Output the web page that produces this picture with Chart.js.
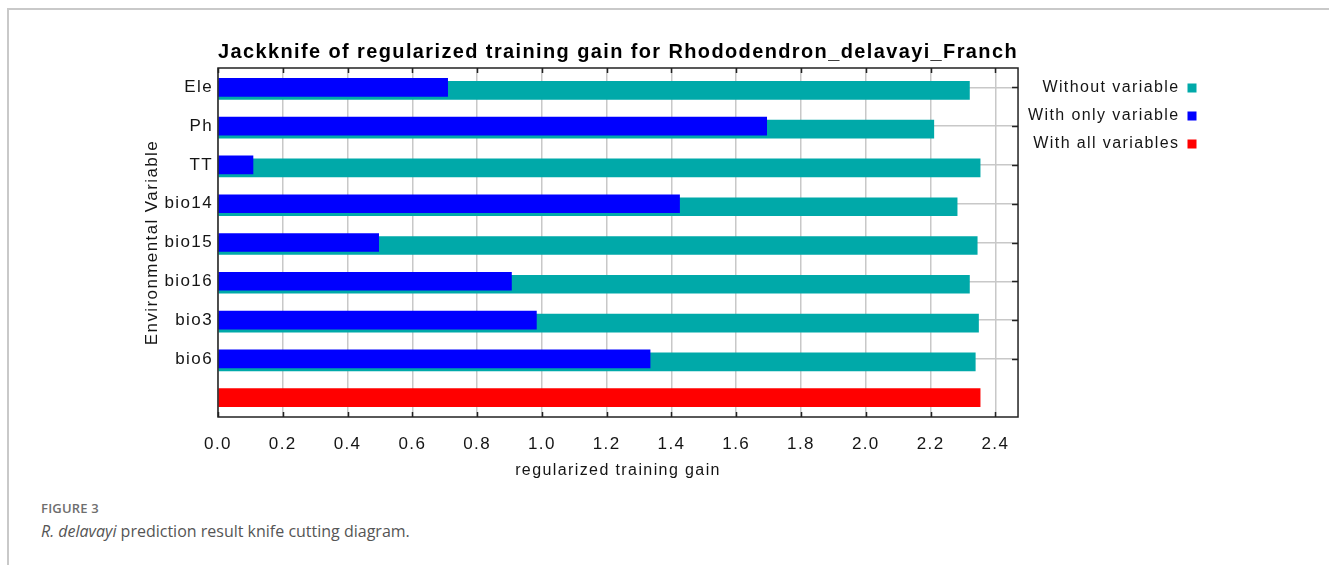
<!DOCTYPE html>
<html>
<head>
<meta charset="utf-8">
<script src="https://cdn.jsdelivr.net/npm/chart.js@4"></script>
<style>
    body { margin: 0; background: #fff; width: 1329px; height: 565px; overflow: hidden; position: relative; }
    .frame { position: absolute; left: 7px; top: 8px; right: 0; bottom: 0; border-top: 2px solid #c9c9c9; border-left: 2px solid #c9c9c9; }
    #chart { position: absolute; left: 0; top: 0; }
    .caption { position: absolute; left: 41px; top: 499px; font-family: "Open Sans", sans-serif; }
    .caption .label { font-size: 13px; font-weight: 600; color: #6e6e6e; letter-spacing: 0.2px; }
    .caption .text { font-size: 16px; color: #555; margin-top: 3px; }
</style>
</head>
<body>
<div class="frame"></div>
<canvas id="chart" width="1329" height="490"></canvas>
<div class="caption">
    <div class="label">FIGURE 3</div>
    <div class="text"><i>R. delavayi</i> prediction result knife cutting diagram.</div>
</div>

<script>
// Jackknife values
const categories = ['Ele', 'Ph', 'TT', 'bio14', 'bio15', 'bio16', 'bio3', 'bio6', ''];
const withoutVariable = [2.32, 2.21, 2.353, 2.282, 2.344, 2.32, 2.348, 2.338, null];
const withOnlyVariable = [0.709, 1.694, 0.108, 1.425, 0.496, 0.906, 0.983, 1.334, null];
const withAllVariables = [null, null, null, null, null, null, null, null, 2.353];

const X_MAX = 2.47;
const X_STEP = 0.2;

const TEAL = '#00a9a9';
const BLUE = '#0000ff';
const RED = '#ff0000';
const AXIS_COLOR = '#222';
const TEXT_COLOR = '#151515';
const GRID_COLOR = '#c8c8c8';
const FONT = 'Liberation Sans, Arial, sans-serif';
const LETTER_SPACING = '1.4px';

// the original plot text is set wide, canvas resets this on resize so set it each pass
const spacingPlugin = {
    id: 'spacing',
    beforeUpdate(chart) { chart.ctx.letterSpacing = LETTER_SPACING; },
    beforeDraw(chart) { chart.ctx.letterSpacing = LETTER_SPACING; }
};

// teal bars sit a few px lower than the blue ones
const shiftPlugin = {
    id: 'shift',
    beforeDatasetDraw(chart, args) {
        if (args.index === 0) {
            chart.ctx.save();
            chart.ctx.translate(0, 3);
        }
    },
    afterDatasetDraw(chart, args) {
        if (args.index === 0) chart.ctx.restore();
    }
};

// box round the plot with inward tick marks
const framePlugin = {
    id: 'frame',
    afterDraw(chart) {
        const { ctx, chartArea: a, scales: { x, y } } = chart;
        ctx.save();
        ctx.strokeStyle = AXIS_COLOR;
        ctx.lineWidth = 1.5;
        ctx.strokeRect(a.left, a.top, a.width, a.height);
        ctx.beginPath();
        x.ticks.forEach(t => {
            const px = Math.round(x.getPixelForValue(t.value)) + 0.5;
            ctx.moveTo(px, a.top);
            ctx.lineTo(px, a.top + 5);
            ctx.moveTo(px, a.bottom);
            ctx.lineTo(px, a.bottom - 5);
        });
        categories.forEach((c, i) => {
            if (!c) return;
            const py = Math.round(y.getPixelForValue(i)) + 0.5;
            ctx.moveTo(a.right, py);
            ctx.lineTo(a.right - 6, py);
        });
        ctx.stroke();
        ctx.restore();
    }
};

new Chart(document.getElementById('chart'), {
    type: 'bar',
    data: {
        labels: categories,
        datasets: [
            { label: 'Without variable', data: withoutVariable, backgroundColor: TEAL, order: 2 },
            { label: 'With only variable', data: withOnlyVariable, backgroundColor: BLUE, order: 1 },
            { label: 'With all variables', data: withAllVariables, backgroundColor: RED, order: 3 }
        ]
    },
    options: {
        indexAxis: 'y',
        responsive: false,
        animation: false,
        grouped: false,
        barThickness: 18,
        borderWidth: 0,
        layout: { padding: { left: 0, right: 120.5, top: 0, bottom: 0 } },
        plugins: {
            title: {
                display: true,
                text: 'Jackknife of regularized training gain for Rhododendron_delavayi_Franch',
                color: '#000',
                font: { family: FONT, size: 20, weight: 'bold' },
                padding: { top: 40, bottom: 4 },
                fullSize: false
            },
            legend: {
                position: 'right',
                align: 'start',
                rtl: true,
                fullSize: false,
                labels: {
                    color: TEXT_COLOR,
                    font: { family: FONT, size: 16 },
                    boxWidth: 9,
                    boxHeight: 9,
                    padding: 12,
                    sort: (a, b) => a.datasetIndex - b.datasetIndex
                }
            },
            tooltip: { enabled: false }
        },
        scales: {
            x: {
                min: 0,
                max: X_MAX,
                ticks: {
                    stepSize: X_STEP,
                    includeBounds: false,
                    color: TEXT_COLOR,
                    font: { family: FONT, size: 17 },
                    padding: 17,
                    callback: v => v.toFixed(1)
                },
                grid: { color: GRID_COLOR, lineWidth: 1.5, drawTicks: false },
                border: { display: false },
                title: {
                    display: true,
                    text: 'regularized training gain',
                    color: TEXT_COLOR,
                    font: { family: FONT, size: 16 },
                    padding: { top: 0, bottom: 10 }
                },
                afterFit(scale) { scale.height = 73; }
            },
            y: {
                offset: true,
                ticks: {
                    color: TEXT_COLOR,
                    font: { family: FONT, size: 17 },
                    padding: 5
                },
                grid: {
                    offset: false,
                    drawTicks: false,
                    lineWidth: 1.5,
                    color: ctx => (categories[ctx.index] ? GRID_COLOR : 'rgba(0,0,0,0)')
                },
                border: { display: false },
                title: {
                    display: true,
                    text: 'Environmental Variable',
                    color: TEXT_COLOR,
                    font: { family: FONT, size: 17 },
                    padding: { top: 142, bottom: 0 }
                },
                afterFit(scale) { scale.width = 218; }
            }
        }
    },
    plugins: [spacingPlugin, shiftPlugin, framePlugin]
});
</script>
</body>
</html>
